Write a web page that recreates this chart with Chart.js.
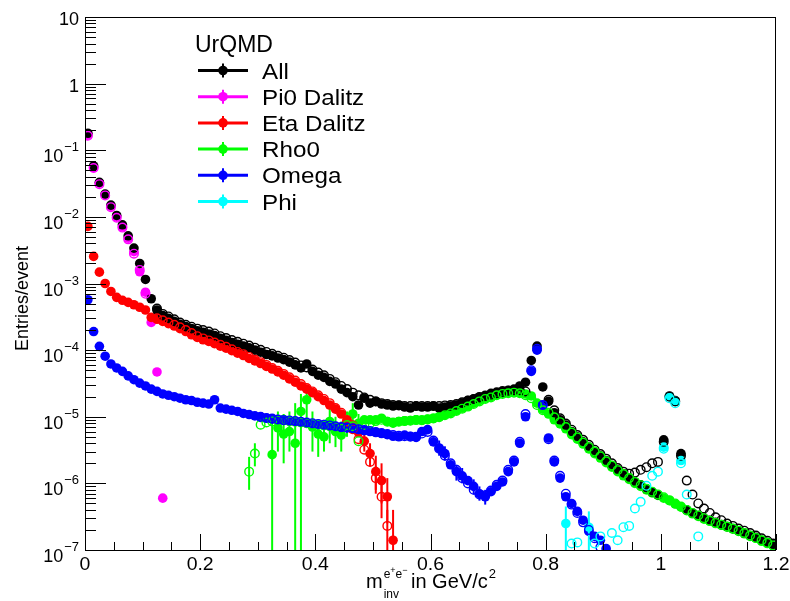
<!DOCTYPE html>
<html>
<head>
<meta charset="utf-8">
<script src="https://cdn.jsdelivr.net/npm/chart.js@4.4.1/dist/chart.umd.min.js"></script>
<style>
  html, body { margin: 0; padding: 0; background: #fff; }
  #wrap { width: 790px; height: 601px; }
</style>
</head>
<body>
<div id="wrap"><canvas id="chart" width="790" height="601"></canvas></div>
<script>
// ── DATA ─────────────────────────────────────────────────────
const N = null;

// bin centres, 10 MeV bins
const mass = [
  0.005,0.015,0.025,0.035,0.045,0.055,0.065,0.075,0.085,0.095,
  0.105,0.115,0.125,0.135,0.145,0.155,0.165,0.175,0.185,0.195,
  0.205,0.215,0.225,0.235,0.245,0.255,0.265,0.275,0.285,0.295,
  0.305,0.315,0.325,0.335,0.345,0.355,0.365,0.375,0.385,0.395,
  0.405,0.415,0.425,0.435,0.445,0.455,0.465,0.475,0.485,0.495,
  0.505,0.515,0.525,0.535,0.545,0.555,0.565,0.575,0.585,0.595,
  0.605,0.615,0.625,0.635,0.645,0.655,0.665,0.675,0.685,0.695,
  0.705,0.715,0.725,0.735,0.745,0.755,0.765,0.775,0.785,0.795,
  0.805,0.815,0.825,0.835,0.845,0.855,0.865,0.875,0.885,0.895,
  0.905,0.915,0.925,0.935,0.945,0.955,0.965,0.975,0.985,0.995,
  1.005,1.015,1.025,1.035,1.045,1.055,1.065,1.075,1.085,1.095,
  1.105,1.115,1.125,1.135,1.145,1.155,1.165,1.175,1.185,1.195
];

// filled markers (first set)
const allY = [
  0.18,0.058,0.033,0.022,0.015,0.0105,0.0076,0.0052,0.0034,0.0020,
  1.15e-3,5.9e-4,4.0e-4,3.3e-4,3.0e-4,2.7e-4,2.45e-4,2.25e-4,2.1e-4,1.95e-4,
  1.85e-4,1.75e-4,1.65e-4,1.5e-4,1.4e-4,1.3e-4,1.22e-4,1.15e-4,1.08e-4,1.0e-4,
  9.3e-5,8.6e-5,8.2e-5,7.6e-5,7.2e-5,6.6e-5,6.0e-5,5.4e-5,6.2e-5,4.8e-5,
  4.2e-5,3.9e-5,3.4e-5,3.1e-5,2.6e-5,2.3e-5,2.0e-5,1.5e-5,1.9e-5,1.6e-5,
  1.7e-5,1.55e-5,1.5e-5,1.45e-5,1.5e-5,1.4e-5,1.35e-5,1.45e-5,1.4e-5,1.4e-5,
  1.45e-5,1.35e-5,1.4e-5,1.45e-5,1.5e-5,1.6e-5,1.75e-5,1.85e-5,2.0e-5,2.1e-5,
  2.25e-5,2.35e-5,2.45e-5,2.5e-5,2.6e-5,2.9e-5,3.3e-5,7.0e-5,1.15e-4,2.8e-5,
  1.7e-5,1.15e-5,9e-6,7.5e-6,6e-6,5e-6,4.2e-6,3.5e-6,3.0e-6,2.6e-6,
  2.2e-6,1.85e-6,1.6e-6,1.4e-6,1.2e-6,1.05e-6,9.5e-7,8.3e-7,7.4e-7,6.7e-7,
  4.5e-6,2.05e-5,1.75e-5,2.8e-6,4.0e-7,3.6e-7,3.3e-7,3.0e-7,2.8e-7,2.6e-7,
  2.4e-7,2.25e-7,2.1e-7,1.95e-7,1.8e-7,1.65e-7,1.55e-7,1.4e-7,1.3e-7,1.2e-7
];
const pi0Y = [
  0.17,0.055,0.032,0.0215,0.0144,0.010,0.0071,0.0048,0.0030,0.0015,
  7.4e-4,2.6e-4,4.7e-5,6e-7
];
const etaY = [
  7.2e-3,2.55e-3,1.48e-3,1.0e-3,7.6e-4,6.2e-4,5.6e-4,5.2e-4,4.8e-4,4.4e-4,
  4.0e-4,3.1e-4,2.9e-4,2.7e-4,2.5e-4,2.3e-4,2.1e-4,1.9e-4,1.7e-4,1.55e-4,
  1.43e-4,1.35e-4,1.25e-4,1.15e-4,1.07e-4,9.8e-5,9.0e-5,8.3e-5,7.5e-5,6.9e-5,
  6.3e-5,5.7e-5,5.2e-5,4.7e-5,4.2e-5,3.7e-5,3.3e-5,2.9e-5,2.6e-5,2.3e-5,
  2.0e-5,1.75e-5,1.5e-5,1.3e-5,1.1e-5,9e-6,7.5e-6,5.8e-6,4.3e-6,2.8e-6,
  1.5e-6,1.1e-6,6.3e-7,1.4e-7
];
const rhoY = [
  N,N,N,N,N,N,N,N,N,N,
  N,N,N,N,N,N,N,N,N,N,
  N,N,N,N,N,N,N,N,N,N,
  N,N,2.7e-6,6.8e-6,5.5e-6,6.0e-6,4.0e-6,1.2e-5,1.8e-5,7e-6,
  5.5e-6,5e-6,8.5e-6,6e-6,5.3e-6,8e-6,1.1e-5,8e-6,9e-6,9e-6,
  9e-6,9.5e-6,8.5e-6,8e-6,8.5e-6,8.7e-6,8.8e-6,9e-6,8.8e-6,9.2e-6,
  9.5e-6,1.0e-5,1.08e-5,1.15e-5,1.25e-5,1.35e-5,1.45e-5,1.6e-5,1.75e-5,1.9e-5,
  2.0e-5,2.15e-5,2.25e-5,2.3e-5,2.35e-5,2.3e-5,2.2e-5,2.05e-5,1.6e-5,1.3e-5,
  1.1e-5,9e-6,7.8e-6,6.6e-6,5.4e-6,4.6e-6,3.9e-6,3.3e-6,2.8e-6,2.4e-6,
  2.05e-6,1.75e-6,1.5e-6,1.3e-6,1.15e-6,1.0e-6,9e-7,8e-7,7.2e-7,6.6e-7,
  6e-7,5.5e-7,4.9e-7,4.4e-7,3.9e-7,3.5e-7,3.2e-7,2.9e-7,2.7e-7,2.5e-7,
  2.35e-7,2.2e-7,2.05e-7,1.9e-7,1.75e-7,1.6e-7,1.5e-7,1.35e-7,1.25e-7,1.15e-7
];
const omegaY = [
  5.7e-4,1.9e-4,1.14e-4,8.1e-5,6.2e-5,5.4e-5,4.8e-5,4.1e-5,3.6e-5,3.2e-5,
  2.9e-5,2.6e-5,2.4e-5,2.2e-5,2.1e-5,2.0e-5,1.9e-5,1.8e-5,1.75e-5,1.65e-5,
  1.6e-5,1.55e-5,1.8e-5,1.35e-5,1.3e-5,1.25e-5,1.2e-5,1.12e-5,1.08e-5,1.03e-5,
  9.8e-6,9.5e-6,9.2e-6,9.0e-6,8.8e-6,8.6e-6,8.5e-6,8.3e-6,8.0e-6,7.8e-6,
  7.6e-6,7.4e-6,7.3e-6,7.1e-6,6.9e-6,6.8e-6,6.6e-6,6.4e-6,6.2e-6,6.0e-6,
  5.8e-6,5.6e-6,5.4e-6,5.1e-6,5.0e-6,5.3e-6,5.1e-6,4.9e-6,6.0e-6,6.4e-6,
  4.2e-6,3.4e-6,2.8e-6,1.9e-6,1.5e-6,1.3e-6,1.1e-6,9e-7,7e-7,6.3e-7,
  7.5e-7,9e-7,1.05e-6,1.5e-6,2.1e-6,4e-6,1.0e-5,4.8e-5,1.0e-4,1.5e-5,
  4.8e-6,2.1e-6,1.2e-6,6.3e-7,5e-7,3.8e-7,2.8e-7,1.9e-7,1.6e-7,1.4e-7,
  1.05e-7
];
const phiY = [
  N,N,N,N,N,N,N,N,N,N,
  N,N,N,N,N,N,N,N,N,N,
  N,N,N,N,N,N,N,N,N,N,
  N,N,N,N,N,N,N,N,N,N,
  N,N,N,N,N,N,N,N,N,N,
  N,N,N,N,N,N,N,N,N,N,
  N,N,N,N,N,N,N,N,N,N,
  N,N,N,N,N,N,N,N,N,N,
  N,N,N,2.5e-7,N,N,N,2.2e-7,N,N,
  N,N,N,N,N,N,N,N,N,N,
  3.5e-6,2.0e-5,1.7e-5,2.2e-6
];

// open markers (second set)
const allOpenY = [
  N,N,N,N,N,N,N,N,N,N,
  N,N,4.2e-4,3.5e-4,3.2e-4,2.9e-4,2.6e-4,2.4e-4,2.25e-4,2.1e-4,
  2.0e-4,1.9e-4,1.78e-4,1.62e-4,1.52e-4,1.42e-4,1.33e-4,1.25e-4,1.17e-4,1.09e-4,
  1.01e-4,9.4e-5,8.8e-5,8.2e-5,7.7e-5,7.1e-5,6.5e-5,5.9e-5,5.5e-5,5.1e-5,
  4.6e-5,4.2e-5,3.7e-5,3.3e-5,2.9e-5,2.6e-5,2.3e-5,2.1e-5,1.95e-5,1.8e-5,
  1.7e-5,1.6e-5,1.55e-5,1.5e-5,1.48e-5,1.45e-5,1.45e-5,1.45e-5,1.45e-5,1.45e-5,
  1.45e-5,1.45e-5,1.48e-5,1.5e-5,1.55e-5,1.65e-5,1.75e-5,1.85e-5,1.95e-5,2.05e-5,
  2.15e-5,2.25e-5,2.35e-5,2.45e-5,2.5e-5,2.5e-5,2.4e-5,N,N,N,
  1.8e-5,1.25e-5,9.5e-6,7.9e-6,6.4e-6,5.3e-6,4.5e-6,3.8e-6,3.2e-6,2.75e-6,
  2.35e-6,2.0e-6,1.7e-6,1.5e-6,1.4e-6,1.45e-6,1.6e-6,1.75e-6,2.0e-6,2.1e-6,
  4.2e-6,2.0e-5,1.7e-5,2.6e-6,1.1e-6,6.8e-7,5.0e-7,4.2e-7,3.6e-7,3.1e-7,
  2.8e-7,2.5e-7,2.3e-7,2.1e-7,1.95e-7,1.8e-7,1.65e-7,1.5e-7,1.38e-7,1.25e-7
];
const pi0OpenY = [
  0.165,0.054,0.031,0.021,0.014,0.0097,0.0069,0.0046,0.0028,0.0016,
  7.0e-4
];
const etaOpenY = [
  N,N,N,N,N,N,N,N,N,N,
  N,N,3.0e-4,2.8e-4,2.6e-4,2.4e-4,2.2e-4,2.0e-4,1.8e-4,1.62e-4,
  1.5e-4,1.4e-4,1.3e-4,1.2e-4,1.12e-4,1.03e-4,9.4e-5,8.7e-5,7.9e-5,7.2e-5,
  6.6e-5,6.0e-5,5.4e-5,4.9e-5,4.4e-5,3.9e-5,3.5e-5,3.1e-5,2.7e-5,2.4e-5,
  2.1e-5,1.85e-5,1.6e-5,1.35e-5,1.15e-5,8.5e-6,6.5e-6,4.6e-6,3.2e-6,2.1e-6,
  1.2e-6,6.3e-7,2.3e-7
];
const rhoOpenY = [
  N,N,N,N,N,N,N,N,N,N,
  N,N,N,N,N,N,N,N,N,N,
  N,N,N,N,N,N,N,N,1.5e-6,2.8e-6,
  7.6e-6,8.2e-6,8.5e-6,8.8e-6,9e-6,8.6e-6,8.4e-6,8.2e-6,8e-6,7.8e-6,
  7.6e-6,7.4e-6,7.2e-6,7e-6,6.6e-6,7.5e-6,7.2e-6,4.3e-6,7.5e-6,8e-6,
  8.6e-6,9e-6,8.4e-6,8.2e-6,8.4e-6,8.6e-6,8.7e-6,8.9e-6,8.9e-6,9.1e-6,
  9.4e-6,9.8e-6,1.05e-5,1.12e-5,1.22e-5,1.32e-5,1.42e-5,1.55e-5,1.7e-5,1.85e-5,
  1.95e-5,2.1e-5,2.2e-5,2.25e-5,2.3e-5,2.25e-5,2.1e-5,1.9e-5,1.5e-5,1.25e-5,
  1.15e-5,9.8e-6,8.3e-6,7e-6,5.8e-6,4.9e-6,4.1e-6,3.5e-6,3.0e-6,2.55e-6,
  2.15e-6,1.85e-6,1.58e-6,1.38e-6,1.2e-6,1.05e-6,9.4e-7,8.3e-7,7.5e-7,6.8e-7,
  6.2e-7,5.6e-7,5.0e-7,4.5e-7,4.0e-7,3.6e-7,3.3e-7,3.0e-7,2.75e-7,2.55e-7,
  2.4e-7,2.25e-7,2.1e-7,1.95e-7,1.8e-7,1.65e-7,1.52e-7,1.4e-7,1.28e-7,1.17e-7
];
const omegaOpenY = [
  N,N,N,N,N,N,N,N,N,N,
  N,N,N,N,N,N,N,N,N,N,
  N,N,N,N,N,N,N,N,N,N,
  1.0e-5,9.6e-6,9.4e-6,9.1e-6,8.9e-6,8.8e-6,8.6e-6,8.4e-6,8.2e-6,8.0e-6,
  7.8e-6,7.6e-6,7.4e-6,7.2e-6,7.0e-6,6.9e-6,6.7e-6,6.5e-6,6.3e-6,6.1e-6,
  5.9e-6,5.7e-6,5.5e-6,5.3e-6,5.2e-6,5.1e-6,5.0e-6,5.0e-6,5.6e-6,5.9e-6,
  4.4e-6,3.3e-6,2.6e-6,2.0e-6,1.6e-6,1.2e-6,1.0e-6,8.0e-7,6.8e-7,6.6e-7,
  7.8e-7,9.5e-7,1.1e-6,1.6e-6,2.2e-6,4.2e-6,1.1e-5,5.0e-5,1.05e-4,1.5e-5,
  4.6e-6,2.2e-6,1.3e-6,7e-7,4.8e-7,3.6e-7,2.6e-7,2.0e-7,1.5e-7,1.1e-7
];
const phiOpenY = [
  N,N,N,N,N,N,N,N,N,N,
  N,N,N,N,N,N,N,N,N,N,
  N,N,N,N,N,N,N,N,N,N,
  N,N,N,N,N,N,N,N,N,N,
  N,N,N,N,N,N,N,N,N,N,
  N,N,N,N,N,N,N,N,N,N,
  N,N,N,N,N,N,N,N,N,N,
  N,N,N,N,N,N,N,N,N,N,
  N,N,N,N,1.25e-7,1.3e-7,N,N,1.25e-7,1.6e-7,
  N,1.8e-7,1.4e-7,2.2e-7,2.3e-7,4.2e-7,5.3e-7,9.2e-7,1.3e-6,1.5e-6,
  3.3e-6,1.9e-5,1.6e-5,2.0e-6,6.8e-7,N,1.6e-7
];

// error bars: [mass, low, high]
const rhoErr = [
  [0.325,0,9e-6],[0.335,3e-6,1.2e-5],[0.345,2e-6,1.1e-5],[0.355,3e-6,1.2e-5],
  [0.365,0,1.6e-5],[0.375,0,2.2e-5],[0.385,8e-6,3e-5],[0.395,3e-6,1.2e-5],
  [0.405,2.5e-6,9e-6],[0.415,3e-6,9e-6],[0.425,4e-6,1.4e-5],[0.435,3.5e-6,1e-5],
  [0.445,3e-6,8.5e-6],[0.455,5e-6,1.2e-5],[0.465,7e-6,1.6e-5],[0.475,5e-6,1.1e-5]
];
const rhoOpenErr = [[0.285,8e-7,2.5e-6],[0.295,1.8e-6,4e-6]];
const etaErr = [
  [0.485,3e-6,6e-6],[0.495,1.8e-6,4e-6],[0.505,8e-7,2.6e-6],
  [0.515,5e-7,2e-6],[0.525,2.5e-7,1.2e-6],[0.535,0,4e-7]
];
const etaOpenErr = [[0.505,7e-7,1.8e-6],[0.515,3e-7,1.1e-6],[0.525,1e-7,4e-7]];
const omegaErr = [
  [0.615,2.6e-6,4.4e-6],[0.625,2.2e-6,3.6e-6],[0.645,1.1e-6,1.9e-6],
  [0.655,1.0e-6,1.7e-6],[0.675,6.8e-7,1.15e-6],[0.685,5.5e-7,9e-7],[0.695,4.8e-7,8e-7]
];
const phiErr = [[0.835,0,4.5e-7],[0.875,0,3.8e-7]];

// axes
const xTicks = [0, 0.2, 0.4, 0.6, 0.8, 1.0, 1.2];
const xTickLabels = ["0", "0.2", "0.4", "0.6", "0.8", "1", "1.2"];
const yDecades = [-7, -6, -5, -4, -3, -2, -1, 0, 1];

// legend
const legendTitle = "UrQMD";
const legendLabels = ["All", "Pi0 Dalitz", "Eta Dalitz", "Rho0", "Omega", "Phi"];
const legendColors = ["#000000", "#ff00ff", "#ff0000", "#00ff00", "#0000ff", "#00ffff"];

// ── HELPERS ──────────────────────────────────────────────────
function pts(ys) {
  const out = [];
  ys.forEach((y, i) => { if (y !== null && y !== undefined) out.push({ x: mass[i], y: y }); });
  return out;
}

function filled(label, ys, color, order, err) {
  return {
    label: label, data: pts(ys), order: order, errBars: err || null,
    showLine: false, pointStyle: "circle", pointRadius: 4.8, pointHoverRadius: 4.8,
    pointBackgroundColor: color, pointBorderColor: color, pointBorderWidth: 0,
    borderColor: color, errColor: color
  };
}

function hollow(label, ys, color, order, err) {
  return {
    label: label, data: pts(ys), order: order, errBars: err || null,
    showLine: false, pointStyle: "circle", pointRadius: 4.3, pointHoverRadius: 4.3,
    pointBackgroundColor: "rgba(0,0,0,0)", pointBorderColor: color, pointBorderWidth: 1.4,
    borderColor: color, errColor: color
  };
}

const FONT = '"Liberation Sans", Arial, Helvetica, sans-serif';

// text a bit wider than the font, like the original canvas
function wideText(ctx, txt, x, y, sx) {
  ctx.save();
  ctx.translate(x, y);
  ctx.scale(sx, 1);
  ctx.fillText(txt, 0, 0);
  ctx.restore();
}

// ── PLUGINS ──────────────────────────────────────────────────
const errorBars = {
  id: "errorBars",
  beforeDatasetDraw(chart, args) {
    const ds = chart.data.datasets[args.index];
    if (!ds.errBars) return;
    const { ctx, chartArea: a, scales: { x, y } } = chart;
    ctx.save();
    ctx.beginPath();
    ctx.rect(a.left, a.top, a.right - a.left, a.bottom - a.top);
    ctx.clip();
    ctx.strokeStyle = ds.errColor;
    ctx.lineWidth = 2;
    ds.errBars.forEach(([m, lo, hi]) => {
      const px = x.getPixelForValue(m);
      const yLo = lo > 0 ? y.getPixelForValue(lo) : a.bottom;
      const yHi = y.getPixelForValue(hi);
      ctx.beginPath();
      ctx.moveTo(px, Math.min(yLo, a.bottom));
      ctx.lineTo(px, yHi);
      ctx.stroke();
    });
    ctx.restore();
  }
};

const rootFrame = {
  id: "rootFrame",
  beforeDraw(chart) {
    const c = chart.ctx;
    c.save();
    c.fillStyle = "#fff";
    c.fillRect(0, 0, chart.width, chart.height);
    c.restore();
  },
  afterDatasetsDraw(chart) {
    const { ctx, chartArea: a, scales: { x, y } } = chart;
    ctx.save();
    ctx.strokeStyle = "#000";
    ctx.fillStyle = "#000";
    ctx.lineWidth = 1;
    ctx.strokeRect(a.left + 0.5, a.top + 0.5, a.right - a.left - 1, a.bottom - a.top);

    // x ticks
    ctx.beginPath();
    xTicks.forEach((v, i) => {
      const px = Math.round(x.getPixelForValue(v)) + 0.5;
      ctx.moveTo(px, a.bottom); ctx.lineTo(px, a.bottom - 16);
      if (i < xTicks.length - 1) {
        const step = (xTicks[i + 1] - v) / 4;
        for (let k = 1; k < 4; k++) {
          const mx = Math.round(x.getPixelForValue(v + k * step)) + 0.5;
          ctx.moveTo(mx, a.bottom); ctx.lineTo(mx, a.bottom - 8);
        }
      }
    });
    // y ticks
    yDecades.forEach((e) => {
      const py = Math.round(y.getPixelForValue(Math.pow(10, e))) + 0.5;
      ctx.moveTo(a.left, py); ctx.lineTo(a.left + 21, py);
      if (e < yDecades[yDecades.length - 1]) {
        for (let m = 2; m <= 9; m++) {
          const my = Math.round(y.getPixelForValue(m * Math.pow(10, e))) + 0.5;
          ctx.moveTo(a.left, my); ctx.lineTo(a.left + 11, my);
        }
      }
    });
    ctx.stroke();

    // x labels
    ctx.font = "18px " + FONT;
    ctx.textAlign = "center";
    ctx.textBaseline = "alphabetic";
    xTicks.forEach((v, i) => {
      wideText(ctx, xTickLabels[i], x.getPixelForValue(v), 570, 1.08);
    });

    // y labels
    const rx = 79;
    yDecades.forEach((e) => {
      const py = y.getPixelForValue(Math.pow(10, e));
      ctx.textAlign = "right";
      if (e === 0 || e === 1) {
        ctx.font = "18px " + FONT;
        ctx.fillText(e === 0 ? "1" : "10", rx, py + 8);
      } else {
        const sup = "\u2212" + (-e);
        ctx.font = "13px " + FONT;
        const w = ctx.measureText(sup).width;
        ctx.fillText(sup, rx, py + 1);
        ctx.font = "18px " + FONT;
        ctx.fillText("10", rx - w - 1, py + 12);
      }
    });

    // x title: m_inv^{e+e-} in GeV/c^2
    ctx.textAlign = "left";
    let tx = 366;
    ctx.font = "20px " + FONT;
    ctx.fillText("m", tx, 588);
    tx += ctx.measureText("m").width + 1;
    ctx.font = "12px " + FONT;
    ctx.fillText("inv", tx, 598);
    let sx = tx;
    ctx.fillText("e", sx, 578); sx += ctx.measureText("e").width;
    ctx.font = "9px " + FONT;
    ctx.fillText("+", sx, 573); sx += ctx.measureText("+").width;
    ctx.font = "12px " + FONT;
    ctx.fillText("e", sx, 578); sx += ctx.measureText("e").width;
    ctx.font = "9px " + FONT;
    ctx.fillText("\u2212", sx, 573);
    ctx.font = "20px " + FONT;
    ctx.fillText("in GeV/c", 411, 588);
    const cw = ctx.measureText("in GeV/c").width;
    ctx.font = "13px " + FONT;
    ctx.fillText("2", 411 + cw + 1, 578);

    // y title
    ctx.save();
    ctx.translate(28, 351);
    ctx.rotate(-Math.PI / 2);
    ctx.font = "18px " + FONT;
    ctx.textAlign = "left";
    ctx.fillText("Entries/event", 0, 0);
    ctx.restore();

    // legend
    ctx.font = "23px " + FONT;
    ctx.textAlign = "left";
    ctx.fillText(legendTitle, 195, 52);
    legendLabels.forEach((lab, i) => {
      const cy = 70.5 + i * 26.2;
      const col = legendColors[i];
      ctx.strokeStyle = col;
      ctx.fillStyle = col;
      ctx.lineWidth = 3;
      ctx.beginPath();
      ctx.moveTo(198, cy); ctx.lineTo(248, cy);
      ctx.stroke();
      ctx.lineWidth = 2;
      ctx.beginPath();
      ctx.moveTo(223, cy - 7); ctx.lineTo(223, cy + 7);
      ctx.stroke();
      ctx.beginPath();
      ctx.arc(223, cy, 4.8, 0, Math.PI * 2);
      ctx.fill();
      ctx.fillStyle = "#000";
      ctx.font = "22px " + FONT;
      wideText(ctx, lab, 262, cy + 8, 1.1);
    });
    ctx.restore();
  }
};

// ── CHART ────────────────────────────────────────────────────
const datasets = [
  filled("Pi0 Dalitz", pi0Y, "#ff00ff", 13),
  filled("Rho0", rhoY, "#00ff00", 12, rhoErr),
  filled("Eta Dalitz", etaY, "#ff0000", 11, etaErr),
  filled("All", allY, "#000000", 10),
  filled("Omega", omegaY, "#0000ff", 9, omegaErr),
  filled("Phi", phiY, "#00ffff", 8, phiErr),
  hollow("All (2)", allOpenY, "#000000", 6),
  hollow("Pi0 Dalitz (2)", pi0OpenY, "#ff00ff", 5),
  hollow("Eta Dalitz (2)", etaOpenY, "#ff0000", 4, etaOpenErr),
  hollow("Rho0 (2)", rhoOpenY, "#00ff00", 3, rhoOpenErr),
  hollow("Omega (2)", omegaOpenY, "#0000ff", 2),
  hollow("Phi (2)", phiOpenY, "#00ffff", 1)
];

new Chart(document.getElementById("chart").getContext("2d"), {
  type: "scatter",
  data: { datasets: datasets },
  options: {
    responsive: false,
    animation: false,
    events: [],
    layout: { padding: { left: 85, top: 17, right: 14, bottom: 51 } },
    plugins: { legend: { display: false }, tooltip: { enabled: false } },
    scales: {
      x: { type: "linear", min: 0, max: 1.2, display: false },
      y: { type: "logarithmic", min: 1e-7, max: 10, display: false }
    }
  },
  plugins: [errorBars, rootFrame]
});
</script>
</body>
</html>
